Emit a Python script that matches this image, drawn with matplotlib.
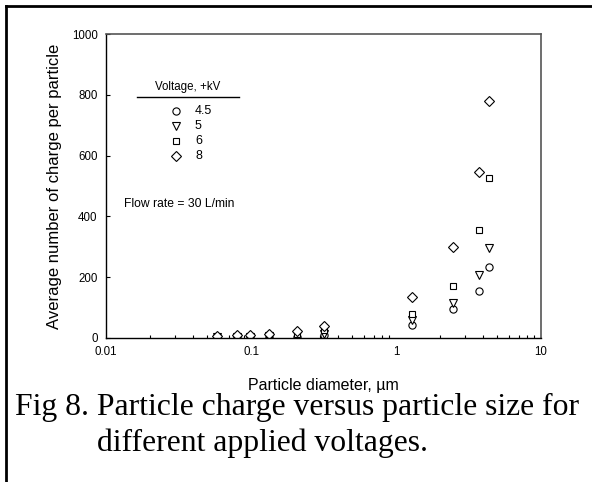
import matplotlib.pyplot as plt
from matplotlib.lines import Line2D
from matplotlib.ticker import LogLocator, NullFormatter, FixedLocator

# particle diameter (um)
diameter = [0.058, 0.080, 0.098, 0.134, 0.208, 0.318, 1.29, 2.46, 3.76, 4.37]

# average number of charges per particle for each voltage (+kV)
q_45 = [2, 2, 3, 3, 4, 10, 42, 95, 155, 234]
q_5 = [3, 4, 4, 5, 8, 13, 58, 115, 208, 295]
q_6 = [4, 6, 7, 10, 13, 27, 80, 172, 355, 528]
q_8 = [5, 8, 10, 14, 22, 40, 133, 298, 546, 780]

labels = ['4.5', '5', '6', '8']
markers = ['o', 'v', 's', 'D']
sizes = [5.2, 5.6, 4.7, 5.0]

fig = plt.figure(figsize=(5.92, 4.82), dpi=100)
ax = fig.add_axes([0.179, 0.299, 0.735, 0.630])

for q, m, ms in zip([q_45, q_5, q_6, q_8], markers, sizes):
    ax.plot(diameter, q, linestyle='none', marker=m, markersize=ms,
            markerfacecolor='white', markeredgecolor='black', markeredgewidth=0.8)

ax.set_xscale('log')
ax.set_xlim(0.01, 10)
ax.set_ylim(0, 1000)
ax.xaxis.set_major_locator(FixedLocator([0.01, 0.1, 1, 10]))
ax.set_xticklabels(['0.01', '0.1', '1', '10'])
ax.xaxis.set_minor_locator(LogLocator(base=10, subs=range(2, 10)))
ax.xaxis.set_minor_formatter(NullFormatter())
ax.set_yticks([0, 200, 400, 600, 800, 1000])

ax.tick_params(axis='both', which='major', direction='in', length=3, width=0.8,
               labelsize=8.3, pad=6)
ax.tick_params(axis='x', which='minor', direction='in', length=2.5, width=0.8)
ax.tick_params(axis='x', which='major', length=0)
for s in ['left', 'bottom']:
    ax.spines[s].set_linewidth(1.0)
for s in ['top', 'right']:
    ax.spines[s].set_color('#555555')
    ax.spines[s].set_linewidth(1.2)

ax.set_xlabel('Particle diameter, \u00b5m', fontsize=11.5, family='Liberation Sans', labelpad=14)
ax.set_ylabel('Average number of charge per particle', fontsize=12,
              family='Liberation Sans', labelpad=7)
for t in ax.get_xticklabels() + ax.get_yticklabels():
    t.set_family('Liberation Sans')

# hand-made legend
fig.text(188 / 592, 1 - 87 / 482, 'Voltage, +kV', ha='center', va='center',
         fontsize=8.3, family='Liberation Sans')
fig.add_artist(Line2D([137 / 592, 239 / 592], [1 - 97 / 482, 1 - 97 / 482],
                      color='black', linewidth=1.0))
rows = [111, 126, 141, 156]
for lab, m, ms, yy in zip(labels, markers, sizes, rows):
    fig.add_artist(Line2D([176 / 592], [1 - yy / 482], linestyle='none', marker=m,
                          markersize=ms, markerfacecolor='white',
                          markeredgecolor='black', markeredgewidth=0.8))
    fig.text(195 / 592, 1 - yy / 482, lab, ha='left', va='center',
             fontsize=9, family='Liberation Sans')

fig.text(124 / 592, 1 - 204 / 482, 'Flow rate = 30 L/min', ha='left', va='center',
         fontsize=8.7, family='Liberation Sans')

# caption
fig.text(15 / 592, 1 - 407 / 482, 'Fig 8. Particle charge versus particle size for',
         ha='left', va='center', fontsize=22.8, family='Liberation Serif')
fig.text(97 / 592, 1 - 443 / 482, 'different applied voltages.',
         ha='left', va='center', fontsize=22.8, family='Liberation Serif')

# frame around the figure
fig.add_artist(Line2D([6 / 592, 1.0], [1 - 6 / 482, 1 - 6 / 482], color='black', linewidth=2))
fig.add_artist(Line2D([6 / 592, 6 / 592], [0, 1 - 6 / 482], color='black', linewidth=2))

fig.savefig('out.png', dpi=100)
